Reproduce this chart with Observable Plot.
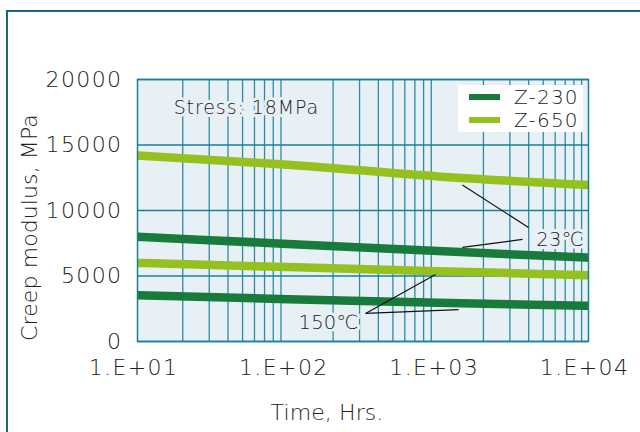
<!DOCTYPE html>
<html>
<head>
<meta charset="utf-8">
<script src="https://cdn.jsdelivr.net/npm/d3@7"></script>
<script src="https://cdn.jsdelivr.net/npm/@observablehq/plot@0.6"></script>
<style>
  html, body { margin: 0; padding: 0; background: #fff; }
  body { width: 640px; height: 432px; position: relative; overflow: hidden; font-family: "DejaVu Sans", sans-serif; font-weight: 200; }
  #frame { position: absolute; left: 6px; top: 10px; width: 700px; height: 500px; border: 2px solid #1e6782; box-sizing: border-box; }
  #chart { position: absolute; left: 0; top: 0; }
  #chart svg text { font-weight: 200; letter-spacing: 1.4px; }
  #chart svg .title text { letter-spacing: 0.1px; }
  #chart svg .anno text { letter-spacing: 0.2px; }
  #chart svg .stress text { letter-spacing: 0.9px; }
  #legend { position: absolute; left: 458px; top: 85px; width: 125px; height: 47px; background: #fff; }
  .item { position: absolute; left: 11px; display: flex; align-items: center; font-size: 20px; color: #222; letter-spacing: 1.2px; }
  .sw { width: 31px; height: 6px; margin-right: 14px; }
</style>
</head>
<body>
<div id="frame"></div>
<div id="chart"></div>
<div id="legend"></div>
<script>
// ---- data ----
const times = [10, 100, 1000, 10000];
const seriesNames = ["Z-230", "Z-650"];
const seriesColors = ["#187b3b", "#94c11f"];
const z650_23C = [14200, 13500, 12600, 11950];
const z230_23C = [8000, 7450, 6900, 6400];
const z650_150C = [6000, 5680, 5370, 5060];
const z230_150C = [3530, 3230, 2960, 2720];
const xTicks = [10, 100, 1000, 10000];
const xTickLabels = ["1.E+01", "1.E+02", "1.E+03", "1.E+04"];
const yTicks = [0, 5000, 10000, 15000, 20000];
const xMinorGrid = [];
for (const d of [10, 100, 1000]) for (let k = 2; k <= 9; k++) xMinorGrid.push(d * k);
// annotations (data coordinates)
const labels23 = [{x: 4500, y: 7750, text: "23℃"}];
const labels150 = [{x: 295, y: 1450, text: "150℃"}];
const stressLabel = [{x: 17.4, y: 17800, text: "Stress: 18MPa"}];
const leaders = [
  {x1: 1450, y1: 11950, x2: 3990, y2: 8700},
  {x1: 1450, y1: 7180, x2: 3640, y2: 7790},
  {x1: 329, y1: 2140, x2: 960, y2: 5110},
  {x1: 329, y1: 2140, x2: 1365, y2: 2440}
];

const rows = [];
const curves = [
  {name: "Z-650", temp: "23", vals: z650_23C},
  {name: "Z-230", temp: "23", vals: z230_23C},
  {name: "Z-650", temp: "150", vals: z650_150C},
  {name: "Z-230", temp: "150", vals: z230_150C}
];
for (const c of curves) times.forEach((t, i) => rows.push({time: t, value: c.vals[i], series: c.name, key: c.name + "-" + c.temp}));

const bg = "#e7f0f5";
const gridColor = "#1a8099";
const fontSize = 22;

const plot = Plot.plot({
  width: 640,
  height: 432,
  marginLeft: 137,
  marginRight: 52,
  marginTop: 79,
  marginBottom: 91,
  style: {fontFamily: "DejaVu Sans, sans-serif", fontSize: fontSize + "px", color: "#222", background: "transparent"},
  x: {type: "log", domain: [10, 10000]},
  y: {domain: [0, 20000]},
  color: {domain: seriesNames, range: seriesColors},
  marks: [
    Plot.frame({fill: bg}),
    Plot.ruleX(xMinorGrid, {stroke: gridColor, strokeWidth: 1.3, strokeOpacity: 0.9}),
    Plot.ruleY(yTicks, {stroke: gridColor, strokeWidth: 1.3}),
    Plot.line(rows, {x: "time", y: "value", z: "key", stroke: "series", strokeWidth: 8.5, curve: "monotone-x", strokeLinecap: "butt"}),
    Plot.frame({stroke: gridColor, strokeWidth: 1.5}),
    Plot.text(stressLabel, {x: "x", y: "y", text: "text", textAnchor: "start", fontSize: 19, fill: "#222", stroke: bg, strokeWidth: 6, paintOrder: "stroke", className: "stress"}),
    Plot.text(labels23, {x: "x", y: "y", text: "text", textAnchor: "start", fontSize: 19.5, fill: "#222", stroke: bg, strokeWidth: 6, paintOrder: "stroke", className: "anno"}),
    Plot.text(labels150, {x: "x", y: "y", text: "text", textAnchor: "end", fontSize: 19.5, fill: "#222", stroke: bg, strokeWidth: 6, paintOrder: "stroke", className: "anno"}),
    Plot.link(leaders, {x1: "x1", y1: "y1", x2: "x2", y2: "y2", stroke: "#111", strokeWidth: 1.2}),
    Plot.axisX({ticks: xTicks, tickFormat: (d) => xTickLabels[xTicks.indexOf(d)], tickSize: 0, tickPadding: 18, dx: -4, label: null, fontSize: fontSize}),
    Plot.axisY({ticks: yTicks, tickFormat: (d) => String(d), tickSize: 0, tickPadding: 15, label: null, fontSize: fontSize}),
    Plot.text(["Creep modulus, MPa"], {frameAnchor: "left", textAnchor: "middle", lineAnchor: "middle", rotate: -90, dx: -108, dy: 17, fontSize: fontSize, fill: "#222", className: "title"}),
    Plot.text(["Time, Hrs."], {frameAnchor: "bottom", textAnchor: "middle", lineAnchor: "middle", dx: -36, dy: 71, fontSize: fontSize, fill: "#222", className: "title"})
  ]
});
document.getElementById("chart").appendChild(plot);

const legend = document.getElementById("legend");
seriesNames.forEach((n, i) => {
  const item = document.createElement("div");
  item.className = "item";
  item.style.top = (i === 0 ? 0 : 23) + "px";
  item.innerHTML = `<span class="sw" style="background:${seriesColors[i]}"></span><span>${n}</span>`;
  legend.appendChild(item);
});
</script>
</body>
</html>
